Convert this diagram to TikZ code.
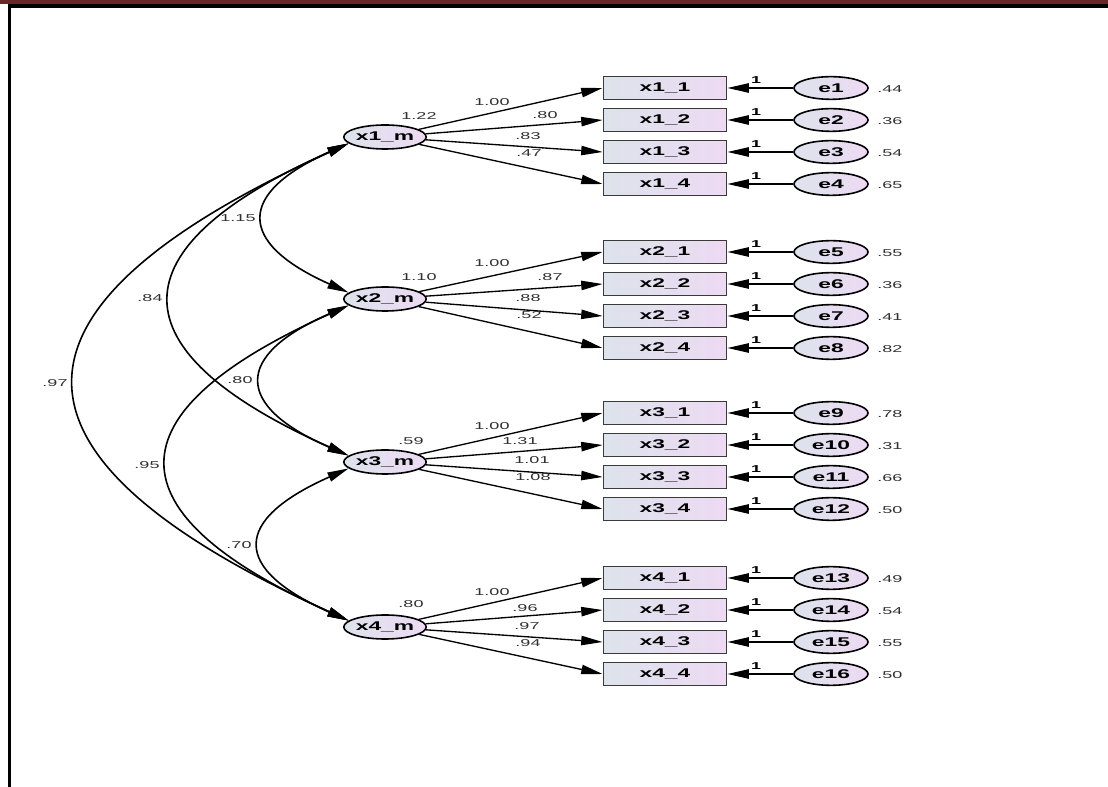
\documentclass[tikz,border=0pt]{standalone}
\usepackage{fontspec}
\setmainfont{Liberation Sans}
\usepackage{graphicx}
\usetikzlibrary{arrows.meta,calc,shapes.geometric}
\newcommand{\wtxt}[1]{\scalebox{1.8}[1]{#1}}
\definecolor{barred}{HTML}{6B2727}
\definecolor{fillL}{HTML}{DDE3EC}
\definecolor{fillR}{HTML}{EDDAF3}
\definecolor{boxline}{HTML}{3A3A3A}
\definecolor{lbltext}{HTML}{303030}
\begin{document}
\begin{tikzpicture}[x=0.75pt,y=-0.75pt,
  tip/.tip={Triangle[length=16pt,width=7pt]},
  lat/.style={ellipse, draw=black, line width=1.2pt, left color=fillL, right color=fillR,
    minimum width=56.25pt, minimum height=18pt, inner sep=0pt,
    font=\bfseries\fontsize{9.5}{10}\selectfont},
  err/.style={lat, minimum width=55.5pt, minimum height=17pt},
  obs/.style={rectangle, draw=boxline, line width=1.4pt, left color=fillL, right color=fillR,
    minimum width=92.25pt, minimum height=17.25pt, inner sep=0pt,
    font=\bfseries\fontsize{9.5}{10}\selectfont},
  lbl/.style={inner sep=0pt, text=lbltext, font=\fontsize{7.5}{8}\selectfont},
  one/.style={lbl, text=black, font=\bfseries\fontsize{7.5}{8}\selectfont},
  arr/.style={-tip, line width=1pt},
  cov/.style={tip-tip, line width=1.2pt}]
\useasboundingbox (0,0) rectangle (1108,787);
% frame
\fill[barred] (0,0) rectangle (1108,4.5);
\fill[black] (7.5,4.5) rectangle (1108,8);
\fill[black] (7.5,4.5) rectangle (11,787);
% latent variables
\node[lat] (x1m) at (385,137) {\wtxt{x1\_m}};
\node[lat] (x2m) at (385,299) {\wtxt{x2\_m}};
\node[lat] (x3m) at (385,462) {\wtxt{x3\_m}};
\node[lat] (x4m) at (385,627) {\wtxt{x4\_m}};
% indicators and errors
\foreach \g/\j/\y/\e/\v in {1/1/88/1/.44, 1/2/120/2/.36, 1/3/152/3/.54, 1/4/184/4/.65,
  2/1/252/5/.55, 2/2/284/6/.36, 2/3/316/7/.41, 2/4/348/8/.82,
  3/1/413/9/.78, 3/2/445/10/.31, 3/3/477/11/.66, 3/4/509/12/.50,
  4/1/578/13/.49, 4/2/610/14/.54, 4/3/642/15/.55, 4/4/674/16/.50} {
  \node[obs] (b\g\j) at (665,\y) {\wtxt{x\g\_\j}};
  \node[err] (e\e) at (831,\y) {\wtxt{e\e}};
  \node[lbl, anchor=west] (v\e) at (877,\y+1) {\wtxt{\v}};
  \node[one] (one\e) at (756,\y-8) {\wtxt{1}};
  \draw[arr] (e\e) -- (b\g\j);
  \draw[arr] (x\g m) -- (b\g\j.west);
}
% loading and variance labels
\node[lbl] (l11) at (492,102) {\wtxt{1.00}};
\node[lbl] (l12) at (545,115) {\wtxt{.80}};
\node[lbl] (l13) at (528,136) {\wtxt{.83}};
\node[lbl] (l14) at (529,153) {\wtxt{.47}};
\node[lbl] (var1) at (419,116) {\wtxt{1.22}};
\node[lbl] (l21) at (492,263) {\wtxt{1.00}};
\node[lbl] (l22) at (550,277) {\wtxt{.87}};
\node[lbl] (l23) at (528,298) {\wtxt{.88}};
\node[lbl] (l24) at (529,315) {\wtxt{.52}};
\node[lbl] (var2) at (419,277) {\wtxt{1.10}};
\node[lbl] (l31) at (492,426) {\wtxt{1.00}};
\node[lbl] (l32) at (520,441) {\wtxt{1.31}};
\node[lbl] (l33) at (532,460) {\wtxt{1.01}};
\node[lbl] (l34) at (533,477) {\wtxt{1.08}};
\node[lbl] (var3) at (411,441) {\wtxt{.59}};
\node[lbl] (l41) at (492,592) {\wtxt{1.00}};
\node[lbl] (l42) at (525,608) {\wtxt{.96}};
\node[lbl] (l43) at (527,626) {\wtxt{.97}};
\node[lbl] (l44) at (528,643) {\wtxt{.94}};
\node[lbl] (var4) at (411,604) {\wtxt{.80}};
% covariances
\draw[cov] (x1m.190) .. controls ($(x1m.190)+(-112,50)$) and ($(x2m.170)+(-112,-50)$) .. (x2m.170);
\draw[cov] (x2m.190) .. controls ($(x2m.190)+(-115,50)$) and ($(x3m.170)+(-115,-50)$) .. (x3m.170);
\draw[cov] (x3m.190) .. controls ($(x3m.190)+(-117,52)$) and ($(x4m.170)+(-117,-52)$) .. (x4m.170);
\draw[cov] (x1m.190) .. controls ($(x1m.190)+(-236,105)$) and ($(x3m.170)+(-236,-105)$) .. (x3m.170);
\draw[cov] (x2m.190) .. controls ($(x2m.190)+(-240,108)$) and ($(x4m.170)+(-240,-108)$) .. (x4m.170);
\draw[cov] (x1m.190) .. controls ($(x1m.190)+(-363,165)$) and ($(x4m.170)+(-363,-165)$) .. (x4m.170);
\node[lbl] (c12) at (238,218) {\wtxt{1.15}};
\node[lbl] (c23) at (240,380) {\wtxt{.80}};
\node[lbl] (c34) at (239,545) {\wtxt{.70}};
\node[lbl] (c13) at (150,298) {\wtxt{.84}};
\node[lbl] (c24) at (147,465) {\wtxt{.95}};
\node[lbl] (c14) at (55,383) {\wtxt{.97}};
\end{tikzpicture}
\end{document}
